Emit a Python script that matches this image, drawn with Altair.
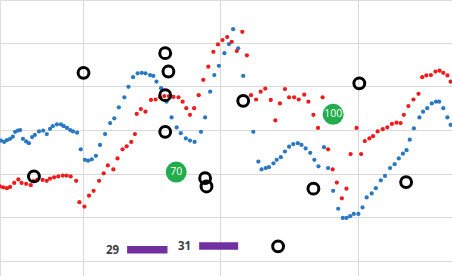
import altair as alt
import pandas as pd

# Blue series: day, value
blue_day = [12.2, 12.9, 13.5, 14.2, 14.8, 15.3, 15.9, 16.4, 17.0, 17.7, 18.3, 19.0, 19.6, 20.5, 21.4,
            22.2, 22.9, 23.5, 24.4, 25.3, 25.9, 26.6, 27.3, 27.9, 28.8,
            29.6, 30.5, 31.2, 32.0, 32.9, 33.8, 34.9, 36.0, 36.9, 37.9, 39.1, 40.0, 41.0, 42.0, 42.9,
            43.7, 44.7, 45.4, 46.1, 47.1, 48.3, 49.4, 50.5, 51.4, 52.5, 53.4, 54.4, 55.8, 56.7, 57.8,
            58.7, 59.7, 60.9, 61.9, 62.8, 63.9, 65.0,
            67.2, 68.3, 69.0, 69.9, 70.6, 71.6, 72.3, 73.2, 74.1, 75.0, 75.9, 76.9, 77.7, 78.6, 79.6,
            80.5, 81.4, 82.6, 83.5, 84.6, 85.7, 86.7, 87.5, 88.3, 89.1, 90.1, 91.0, 91.9, 93.0, 93.9,
            95.0, 95.9, 97.0, 98.0, 98.9, 99.8, 100.6, 101.3, 102.2, 103.4, 104.2, 105.1, 106.1, 107.0,
            107.7, 108.6, 109.5, 110.2]
blue_val = [27.6, 27.3, 27.7, 28.0, 28.5, 29.6, 29.9, 30.0, 28.0, 27.4, 27.0, 28.4, 28.9, 29.7, 29.9,
            29.1, 30.3, 30.9, 31.3, 31.3, 30.9, 30.5, 30.0, 29.7, 29.4,
            25.6, 23.2, 23.0, 23.3, 24.1, 26.6, 29.1, 31.6, 32.7, 35.2, 37.5, 39.9, 42.1, 43.0, 43.1,
            43.0, 42.6, 42.4, 41.1, 39.6, 36.5, 32.9, 30.6, 29.3, 28.1, 27.6, 27.3, 29.6, 32.9, 38.8,
            42.6, 44.7, 47.6, 49.7, 53.1, 48.7, 42.4,
            29.6, 22.8, 21.0, 21.3, 21.5, 22.4, 23.2, 23.8, 25.1, 26.2, 26.8, 27.0, 26.6, 25.8, 24.8,
            23.2, 21.7, 26.1, 21.3, 16.1, 12.0, 9.9, 9.9, 10.3, 10.8, 10.8, 12.3, 14.6, 15.5, 16.7,
            18.5, 19.5, 21.3, 22.2, 23.5, 24.6, 25.4, 27.8, 30.4, 32.9, 34.2, 35.0, 36.1, 36.5,
            36.5, 35.0, 32.9, 31.2]

# Red series: day, value
red_day = [12.0, 12.7, 13.5, 14.2, 15.1, 16.0, 16.7, 17.7, 18.7, 19.3, 20.1, 21.3, 22.2, 22.9, 23.8,
           24.7, 25.7, 26.5, 27.4, 28.6,
           29.3, 30.4, 31.4, 32.4, 33.6, 34.6, 35.5, 36.7, 37.6, 38.7, 39.6, 40.6, 41.4, 41.8, 42.7,
           43.7, 44.9, 45.9, 46.9, 47.8, 48.8, 49.8, 50.9, 51.8, 52.6, 53.4, 54.3, 55.3, 56.3, 57.4,
           58.5, 59.5, 60.5, 61.5, 62.5, 63.6, 64.8, 65.8,
           66.7, 67.8, 68.8, 69.8, 71.0, 72.0, 73.0, 74.1, 75.0, 76.1, 77.1, 78.3, 79.2, 80.3, 81.3,
           82.3, 83.5, 84.5, 85.4, 86.5, 87.5, 88.4, 89.7, 90.7, 91.5, 92.5, 93.3, 94.3, 95.4, 96.4,
           97.4, 98.4, 99.3, 100.0, 101.0, 102.1, 103.2, 104.0, 104.9, 105.9, 106.9, 107.8, 108.6,
           109.5, 110.2]
red_val = [17.1, 16.9, 16.7, 17.0, 17.9, 18.7, 17.9, 17.7, 17.4, 18.3, 18.6, 18.6, 18.4, 18.9, 19.2,
           19.4, 19.6, 19.6, 19.4, 18.4,
           13.5, 12.5, 15.0, 16.1, 18.4, 20.1, 21.9, 21.0, 23.5, 25.6, 26.3, 27.3, 29.1, 33.7, 34.8,
           34.2, 36.9, 37.0, 37.5, 37.8, 37.8, 37.6, 37.5, 36.5, 35.0, 33.5, 35.0, 38.0, 41.5, 44.5,
           47.9, 49.6, 50.6, 51.3, 50.2, 48.1, 52.5, 47.1,
           38.0, 37.0, 38.8, 39.5, 36.9, 32.2, 36.1, 39.4, 37.5, 37.5, 37.0, 38.1, 36.5, 33.5, 30.5,
           37.5, 25.6, 21.0, 18.0, 14.4, 16.6, 24.5, 30.5, 24.5, 27.5, 28.1, 28.6, 29.7, 30.2, 30.6,
           31.4, 31.7, 31.6, 33.5, 35.5, 37.0, 38.3, 42.1, 42.5, 42.6, 43.4, 43.6, 43.1,
           42.5, 41.1]

# Open black rings
ring_day = [30.2, 48.0, 48.7, 48.0, 48.0, 65.0, 90.3, 19.4, 56.7, 57.0, 72.6, 80.3, 100.5]
ring_val = [43.1, 47.6, 43.4, 38.0, 29.6, 36.7, 40.7, 19.4, 19.0, 17.1, 3.4, 16.6, 18.1]

# Green numbered badges
badge_day = [50.4, 84.6]
badge_val = [20.4, 33.6]
badge_text = ["70", "100"]

# Purple spans with their labels
span_start = [39.7, 55.4]
span_end = [48.5, 63.9]
span_val = [2.6, 3.5]
span_text = ["29", "31"]

blue = pd.DataFrame({"day": blue_day, "value": blue_val})
red = pd.DataFrame({"day": red_day, "value": red_val})
rings = pd.DataFrame({"day": ring_day, "value": ring_val})
badges = pd.DataFrame({"day": badge_day, "value": badge_val, "label": badge_text})
spans = pd.DataFrame({"start": span_start, "end": span_end, "value": span_val, "label": span_text})

xs = alt.Scale(domain=[12, 110.5], nice=False, zero=False)
ys = alt.Scale(domain=[-3.39, 59.77], nice=False, zero=False)

x_axis = alt.Axis(values=[30, 60, 90], grid=True, labels=False, ticks=False, domain=False,
                  title=None, gridColor="#d9d9d9", gridWidth=1)
y_axis = alt.Axis(values=[0, 10, 20, 30, 40, 50], grid=True, labels=False, ticks=False,
                  domain=False, title=None, gridColor="#d9d9d9", gridWidth=1)

X = alt.X("day:Q", scale=xs, axis=x_axis)
Y = alt.Y("value:Q", scale=ys, axis=y_axis)

blue_layer = alt.Chart(blue).mark_circle(size=18, color="#2a78c4", opacity=1).encode(x=X, y=Y)
red_layer = alt.Chart(red).mark_circle(size=18, color="#ee1c1c", opacity=1).encode(x=X, y=Y)

ring_layer = alt.Chart(rings).mark_point(
    shape="circle", size=118, filled=False, color="#000000", strokeWidth=3, opacity=1
).encode(x=X, y=Y)

badge_dot = alt.Chart(badges).mark_circle(size=440, color="#21ad4b", opacity=1).encode(x=X, y=Y)
badge_lbl = alt.Chart(badges).mark_text(
    color="white", fontSize=10.5, font="Open Sans", align="center", baseline="middle"
).encode(x=X, y=Y, text="label:N")

span_bar = alt.Chart(spans).mark_rule(color="#7030a0", strokeWidth=7.5, strokeCap="butt").encode(
    x=alt.X("start:Q", scale=xs, axis=x_axis), x2="end:Q", y=Y)
span_lbl = alt.Chart(spans).mark_text(
    color="#404040", fontSize=11.5, font="Open Sans", fontWeight="bold", align="right",
    baseline="middle", dx=-8, dy=1
).encode(x=alt.X("start:Q", scale=xs, axis=x_axis), y=Y, text="label:N")

chart = alt.layer(
    blue_layer, red_layer, ring_layer, span_bar, span_lbl, badge_dot, badge_lbl
).properties(
    width=452, height=276, autosize=alt.AutoSizeParams(type="none"), padding=0
).configure_view(stroke=None).configure(background="white")

chart.save("out.html", embed_options={"renderer": "svg", "actions": False})
